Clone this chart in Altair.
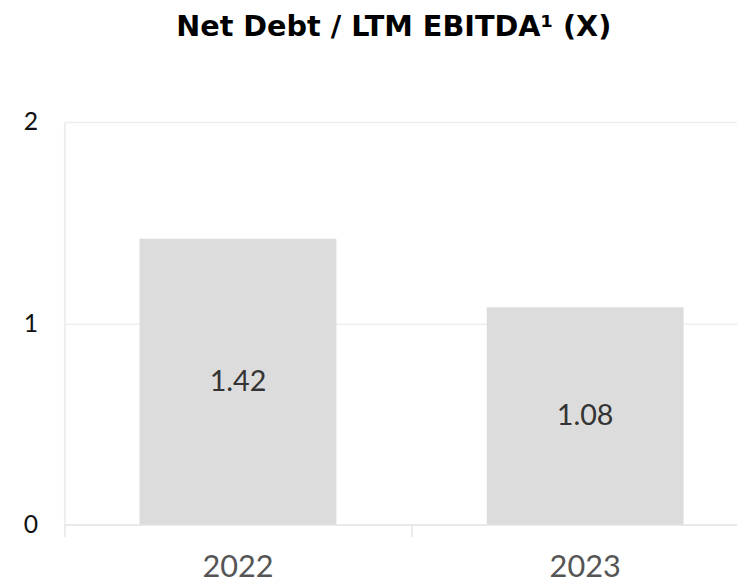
import altair as alt
import pandas as pd

years = ["2022", "2023"]
values = [1.42, 1.08]
labels = ["1.42", "1.08"]
y_ticks = [0, 1, 2]

df = pd.DataFrame({"year": years, "value": values, "label": labels})

base = alt.Chart(df)

bars = base.mark_bar(color="#dcdcdc", size=199).encode(
    x=alt.X("year:N", title=None,
            scale=alt.Scale(paddingInner=0, paddingOuter=0, range=[0, 702]),
            axis=alt.Axis(labelAngle=0, labelFontSize=31, labelColor="#555555",
                          labelFont="Lato", labelPadding=17, tickSize=12, tickColor="#e6e6e6",
                          domainColor="#e6e6e6", bandPosition=0, grid=False, tickWidth=1.5,
                          domainWidth=1.5)),
    y=alt.Y("value:Q", title=None,
            scale=alt.Scale(domain=[0, 2]),
            axis=alt.Axis(values=y_ticks, labelExpr="datum.value + ''", labelFontSize=25,
                          labelColor="#111111", labelFont="Lato", labelPadding=27, ticks=False,
                          domainColor="#eeeeee", domainWidth=2, gridColor="#eeeeee",
                          gridWidth=1.5, labelOverlap=False)),
)

text = base.transform_calculate(mid="datum.value / 2").mark_text(
    fontSize=29, color="#333333", font="Lato"
).encode(
    x=alt.X("year:N"),
    y=alt.Y("mid:Q"),
    text="label:N",
)

chart = (bars + text).properties(
    width=680, height=407,
    title=alt.TitleParams("Net Debt / LTM EBITDA¹ (X)", fontSize=29, font="DejaVu Sans",
                          fontWeight="bold", color="#000000", anchor="middle",
                          frame="group", dx=-7, offset=69),
    autosize=alt.AutoSizeParams(type="none"),
    padding={"left": 57, "top": 112, "right": 0, "bottom": 62},
).configure_view(stroke=None)

chart.save("out.html", embed_options={"renderer": "svg", "actions": False})
